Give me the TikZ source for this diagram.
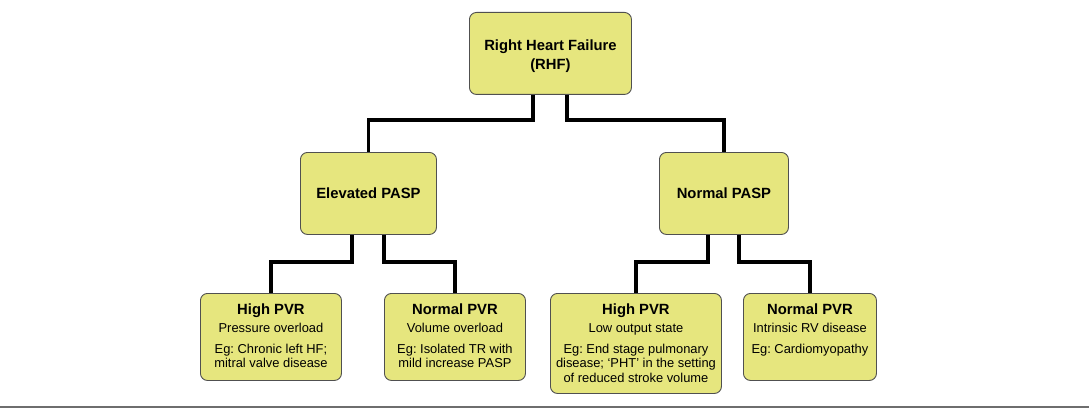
\documentclass[tikz,border=0pt]{standalone}
\usepackage{fontspec}
\setmainfont{Liberation Sans}
\frenchspacing
\definecolor{boxfill}{RGB}{230,230,126}
\definecolor{boxline}{RGB}{80,80,80}
\definecolor{rulegray}{RGB}{110,110,110}
\tikzset{
  x=1pt, y=-1pt,
  box/.style={draw=boxline, line width=0.9pt, fill=boxfill, rounded corners=7pt, inner sep=0pt, anchor=north west},
  conn/.style={line width=3.6pt, black},
}
\newcommand{\hdtext}[1]{{\fontsize{14.8}{19}\selectfont\bfseries #1\par}}
\newcommand{\bodytext}[1]{{\fontsize{12.9}{14.6}\selectfont #1\par}}
\newcommand{\topbox}[3]{\parbox[c][#2pt][c]{#1pt}{\centering #3}}
\newcommand{\leafbox}[3]{\parbox[c][#2pt][t]{#1pt}{\centering\vspace{10pt}#3}}
\begin{document}
\begin{tikzpicture}
\useasboundingbox (0,0) rectangle (1089,409);
% boxes
\node[box] (rhf) at (469,12) {\topbox{162}{82}{\vspace{6pt}\hdtext{Right Heart Failure\\(RHF)}}};
\node[box] (elev) at (300,152) {\topbox{136}{82}{\hdtext{Elevated PASP}}};
\node[box] (norm) at (659,152) {\topbox{129}{82}{\hdtext{Normal PASP}}};
\node[box] (l1) at (200,293) {\leafbox{141}{87}{\hdtext{High PVR}\vspace{4pt}\bodytext{Pressure overload}\vspace{6pt}\bodytext{Eg: Chronic left HF;\\mitral valve disease}}};
\node[box] (l2) at (384,293) {\leafbox{141}{87}{\hdtext{Normal PVR}\vspace{4pt}\bodytext{Volume overload}\vspace{6pt}\bodytext{Eg: Isolated TR with\\mild increase PASP}}};
\node[box] (l3) at (550,293) {\leafbox{171}{100}{\hdtext{High PVR}\vspace{4pt}\bodytext{Low output state}\vspace{6pt}\bodytext{Eg: End stage pulmonary\\disease; `PHT' in the setting\\of reduced stroke volume}}};
\node[box] (l4) at (743,293) {\leafbox{133}{87}{\hdtext{Normal PVR}\vspace{4pt}\bodytext{Intrinsic RV disease}\vspace{6pt}\bodytext{Eg: Cardiomyopathy}}};
% connectors
\coordinate (rhfL) at (533,120);
\coordinate (rhfR) at (567,120);
\coordinate (elL) at (352,262);
\coordinate (elR) at (384,262);
\coordinate (noL) at (708,262);
\coordinate (noR) at (739,262);
\draw[conn] (rhf.south -| rhfL) -- (rhfL) -- (rhfL -| elev.north) -- (elev.north);
\draw[conn] (rhf.south -| rhfR) -- (rhfR) -- (rhfR -| norm.north) -- (norm.north);
\draw[conn] (elev.south -| elL) -- (elL) -- (elL -| l1.north) -- (l1.north);
\draw[conn] (elev.south -| elR) -- (elR) -- (elR -| l2.north) -- (l2.north);
\draw[conn] (norm.south -| noL) -- (noL) -- (noL -| l3.north) -- (l3.north);
\draw[conn] (norm.south -| noR) -- (noR) -- (noR -| l4.north) -- (l4.north);
% bottom rule
\coordinate (ruleL) at (0,407);
\coordinate (ruleR) at (1089,407);
\draw[rulegray, line width=2pt] (ruleL) -- (ruleR);
\end{tikzpicture}
\end{document}
